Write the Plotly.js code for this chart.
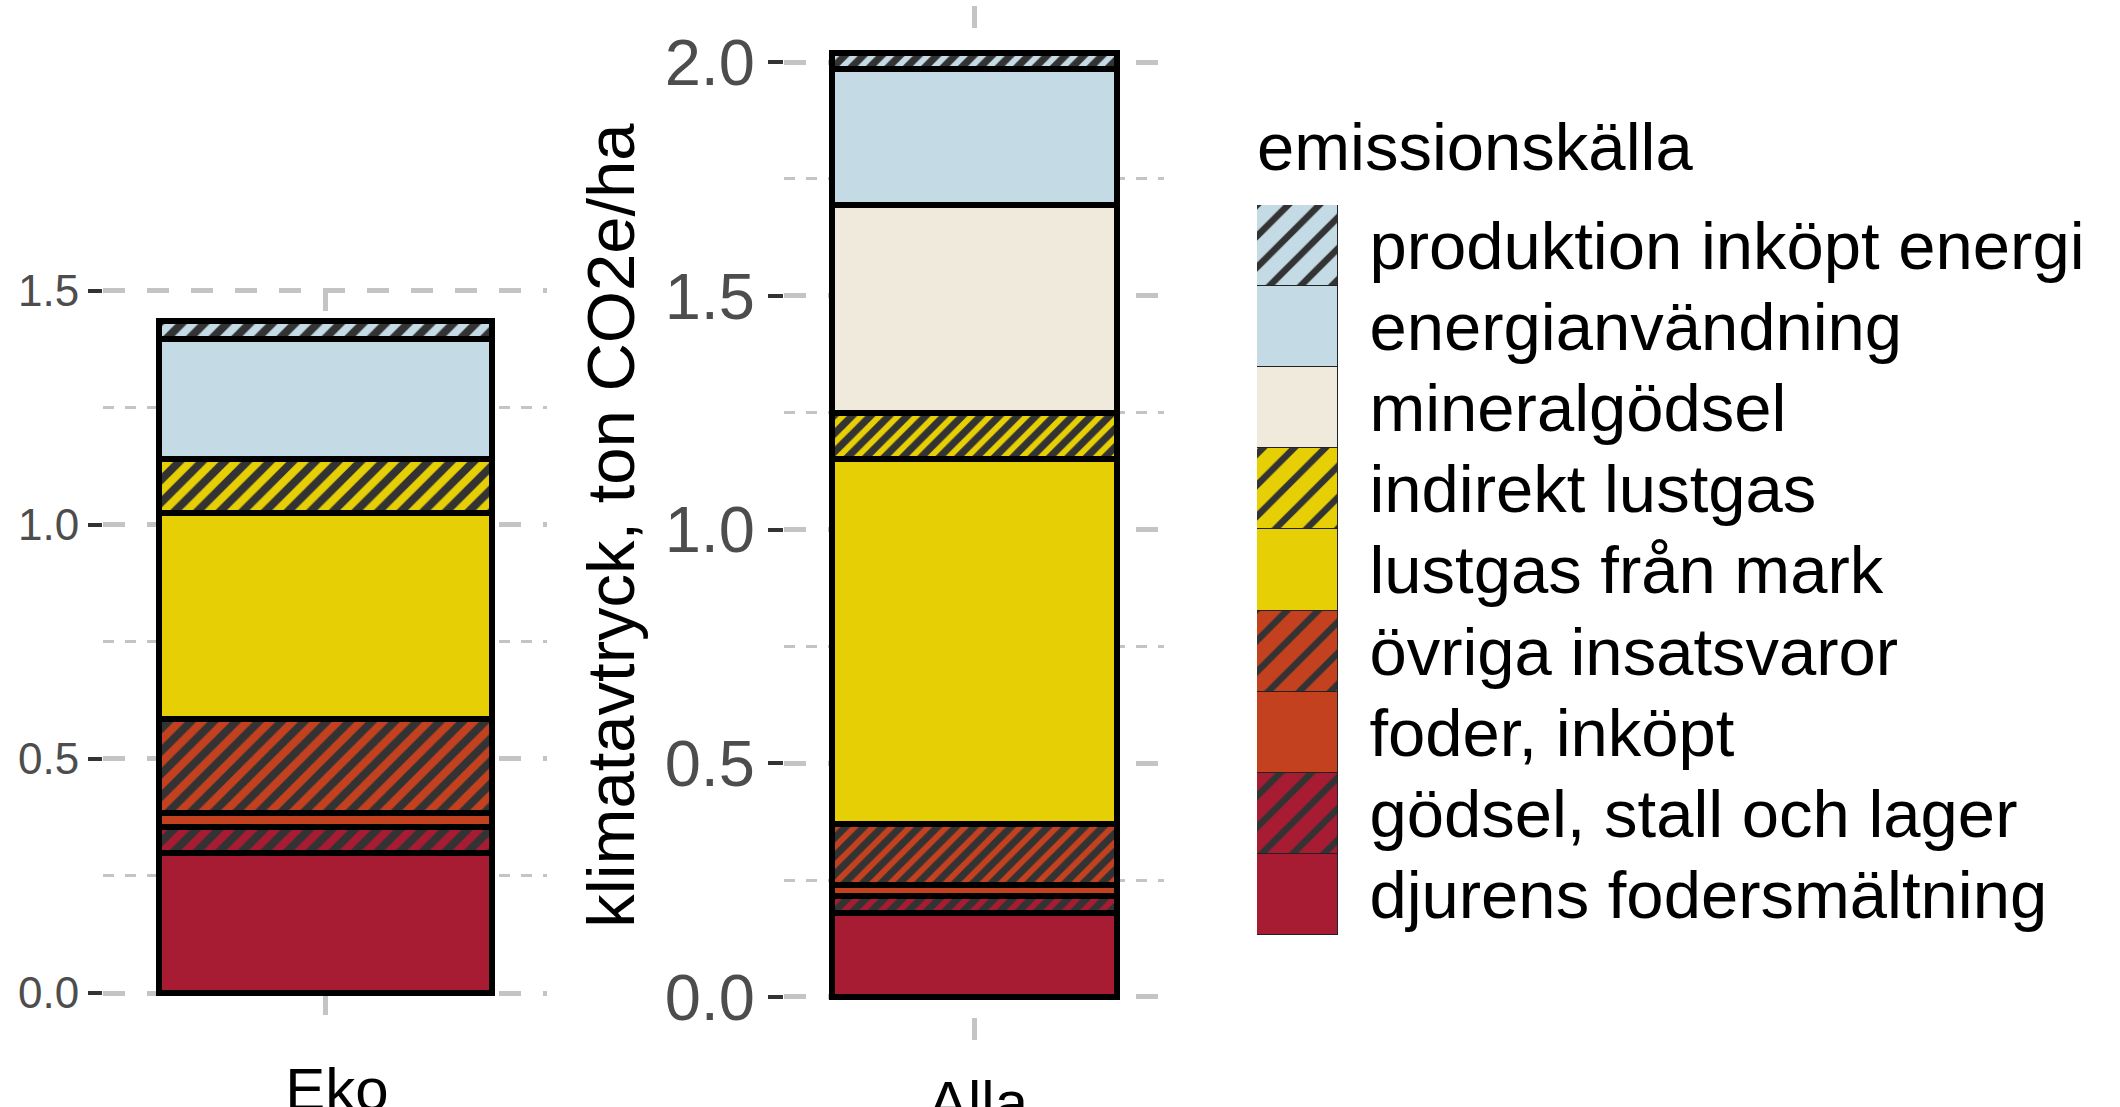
<!DOCTYPE html>
<html>
<head>
<meta charset="utf-8">
<script src="https://cdn.plot.ly/plotly-3.0.1.min.js"></script>
<style>html,body{margin:0;padding:0;background:#fff;}#chart{width:2120px;height:1107px;}</style>
</head>
<body>
<div id="chart"></div>
<script>
// Emission sources, stacked from bottom to top
const sources = [
  "djurens fodersmältning",
  "gödsel, stall och lager",
  "foder, inköpt",
  "övriga insatsvaror",
  "lustgas från mark",
  "indirekt lustgas",
  "mineralgödsel",
  "energianvändning",
  "produktion inköpt energi"
];
const fillColors = ["#A71B33", "#A71B33", "#C4411F", "#C4411F", "#E7CF06", "#E7CF06", "#EFEADC", "#C4DAE5", "#C4DAE5"];
const hatched = [false, true, false, true, false, true, false, false, true];

// climate footprint, ton CO2e/ha
const ekoValues  = [0.300, 0.055, 0.030, 0.200, 0.440, 0.115, 0.000, 0.258, 0.038];
const allaValues = [0.180, 0.035, 0.025, 0.130, 0.780, 0.100, 0.445, 0.290, 0.035];

const groupEko = "Eko";
const groupAlla = "Alla";
const legendTitle = "emissionskälla";
const yTitle = "klimatavtryck, ton CO2e/ha";

const W = 2120, H = 1107;
const fx = p => p / W;
const fy = p => 1 - p / H;
const FONT = "Liberation Sans, Arial, Helvetica, sans-serif";

function pattern(i, size, solidity) {
  if (!hatched[i]) return {shape: ""};
  return {shape: "/", fillmode: "overlay", bgcolor: fillColors[i], fgcolor: "#333333", fgopacity: 1, size: size, solidity: solidity};
}

const traces = [];
sources.forEach((s, i) => {
  traces.push({
    type: "bar", name: s, x: [groupEko], y: [ekoValues[i]], xaxis: "x", yaxis: "y", width: 0.9,
    marker: {color: fillColors[i], line: {color: "#000", width: 6}, pattern: pattern(i, 16, 0.5)},
    showlegend: false, hoverinfo: "name+y"
  });
  traces.push({
    type: "bar", name: s, x: [groupAlla], y: [allaValues[i]], xaxis: "x2", yaxis: "y2", width: 0.9,
    marker: {color: fillColors[i], line: {color: "#000", width: 6}, pattern: pattern(i, 13, 0.55)},
    showlegend: false, hoverinfo: "name+y"
  });
});
// legend keys drawn as a one-column stack in their own small subplot
for (let i = sources.length - 1; i >= 0; i--) {
  traces.push({
    type: "bar", orientation: "h", name: sources[i], y: [sources[i]], x: [1], xaxis: "x3", yaxis: "y3", width: 1,
    marker: {color: fillColors[i], line: {color: "#222", width: 1.5}, pattern: pattern(i, 22, 0.3)},
    showlegend: false, hoverinfo: "name"
  });
}

const gridCol = "#c4c4c4";
const tickFontColor = "#4d4d4d";
function yAxis(domainY, range, fontSize, ticklen) {
  return {
    domain: domainY, range: range, zeroline: false, showline: false,
    tickvals: [0, 0.5, 1, 1.5, 2], ticktext: ["0.0", "0.5", "1.0", "1.5", "2.0"],
    ticks: "outside", ticklen: ticklen, tickwidth: 4, tickcolor: "#333333",
    tickfont: {family: FONT, size: fontSize, color: tickFontColor},
    showgrid: true, gridcolor: gridCol, gridwidth: 4.5, griddash: "22px,22px",
    minor: {tickvals: [0.25, 0.75, 1.25, 1.75], showgrid: true, gridcolor: gridCol, gridwidth: 2.5, griddash: "11px,11px", ticks: ""},
    fixedrange: true
  };
}
function xAxis(domainX, anchor, shift, ticklen) {
  return {
    domain: domainX, anchor: anchor, type: "category", range: [-0.6, 0.6],
    showline: false, zeroline: false,
    ticks: "outside", ticklen: ticklen, tickcolor: "rgba(0,0,0,0)", ticklabelshift: shift,
    tickfont: {family: FONT, size: 60, color: "#000"},
    showgrid: true, gridcolor: gridCol, gridwidth: 4.5, griddash: "22px,22px",
    fixedrange: true
  };
}

const layout = {
  width: W, height: H,
  margin: {l: 0, r: 0, t: 0, b: 0},
  paper_bgcolor: "#fff", plot_bgcolor: "rgba(0,0,0,0)",
  barmode: "stack", bargap: 0,
  showlegend: false,
  font: {family: FONT},
  xaxis: xAxis([fx(103), fx(547)], "y", 12, 10),
  yaxis: yAxis([fy(1027), fy(289)], [-0.0726, 1.504], 44, 14),
  xaxis2: xAxis([fx(784), fx(1164)], "y2", 4, 5),
  yaxis2: Object.assign(yAxis([fy(1045), fy(6)], [-0.1027, 2.12], 65, 15), {
    anchor: "x2",
    title: {text: yTitle, font: {family: FONT, size: 67, color: "#000"}, standoff: 8}
  }),
  xaxis3: {domain: [fx(1257), fx(1338)], anchor: "y3", range: [0, 1], visible: false, fixedrange: true},
  yaxis3: {
    domain: [fy(935), fy(205)], anchor: "x3", type: "category", autorange: "reversed",
    side: "right", showgrid: false, zeroline: false, showline: false,
    ticks: "outside", ticklen: 17, tickcolor: "rgba(0,0,0,0)",
    tickfont: {family: FONT, size: 67, color: "#000"},
    fixedrange: true
  },
  annotations: [{
    text: legendTitle, xref: "paper", yref: "paper", x: fx(1255), y: fy(146),
    xanchor: "left", yanchor: "middle", showarrow: false,
    font: {family: FONT, size: 67, color: "#000"}
  }]
};

Plotly.newPlot("chart", traces, layout, {displayModeBar: false, staticPlot: false});
</script>
</body>
</html>
